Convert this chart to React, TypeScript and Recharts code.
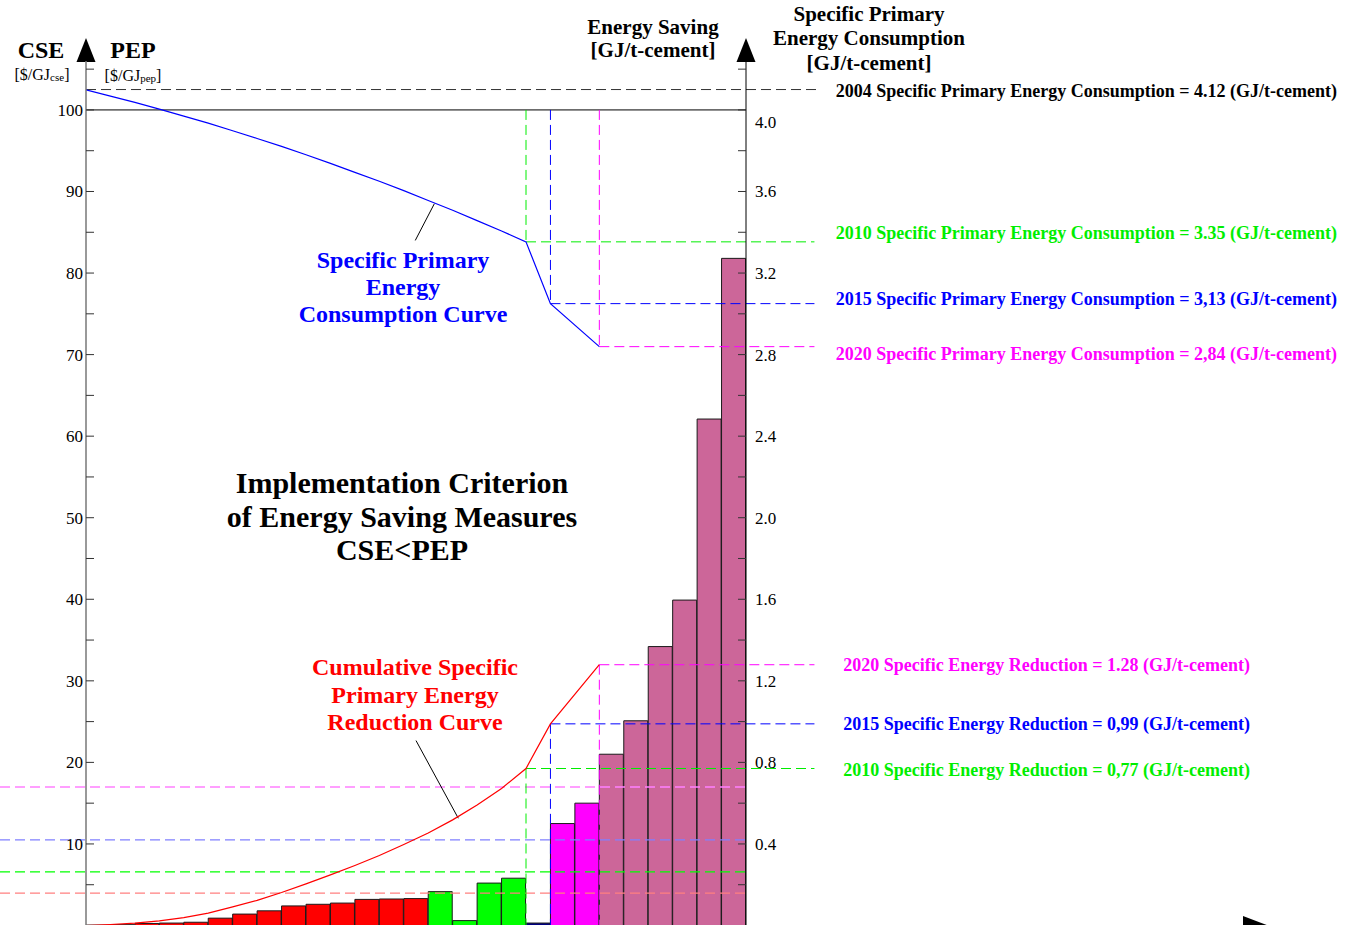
import React from "react";
import { Bar, Cell, ComposedChart, Line, ReferenceLine, XAxis, YAxis } from "recharts";

// cost of saved energy of each measure, $/GJ (left axis)
const measureCse = [
  0.05, 0.1, 0.25, 0.3, 0.4, 0.9, 1.4, 1.8, 2.4, 2.6, 2.75, 3.2, 3.25, 3.3,
  4.15, 0.6, 5.2, 5.8, 0.3, 12.5, 15.0, 21.0, 25.1, 34.2, 39.9, 62.1, 81.8,
];
const measureGroup = [
  "2004", "2004", "2004", "2004", "2004", "2004", "2004", "2004", "2004", "2004", "2004", "2004", "2004", "2004",
  "2010", "2010", "2010", "2010", "2015", "2020", "2020",
  "none", "none", "none", "none", "none", "none",
];

// curves, read at the measure edges (GJ/t-cement, right axis)
const curveEdge = [0, 1, 2, 3, 4, 5, 6, 7, 8, 9, 10, 11, 12, 13, 14, 15, 16, 17, 18, 19, 21];
const consumptionCurve = [
  4.098, 4.068, 4.037, 4.004, 3.97, 3.935, 3.898, 3.86, 3.821, 3.78, 3.738,
  3.694, 3.65, 3.604, 3.556, 3.508, 3.457, 3.406, 3.353, 3.05, 2.839,
];
const reductionCurve = [
  0, 0.005, 0.012, 0.023, 0.039, 0.061, 0.091, 0.123, 0.162, 0.204, 0.248,
  0.294, 0.343, 0.397, 0.454, 0.518, 0.591, 0.672, 0.77, 0.989, 1.279,
];

// milestones
const baseConsumption = 4.1;
const milestoneYear = ["2010", "2015", "2020"];
const milestoneEdge = [18, 19, 21];
const milestoneConsumption = [3.353, 3.05, 2.839];
const milestoneReduction = [0.77, 0.989, 1.279];

// price of energy levels, $/GJ (left axis)
const pepYear = ["2020", "2015", "2010", "2004"];
const pepLevel = [16.98, 10.49, 6.57, 3.98];

const consumptionLabels = [
  "2004 Specific Primary Energy Consumption = 4.12 (GJ/t-cement)",
  "2010 Specific Primary Energy Consumption = 3.35 (GJ/t-cement)",
  "2015 Specific Primary Energy Consumption = 3,13 (GJ/t-cement)",
  "2020 Specific Primary Energy Consumption = 2,84 (GJ/t-cement)",
];
const reductionLabels = [
  "2010 Specific Energy Reduction = 0,77 (GJ/t-cement)",
  "2015 Specific Energy Reduction = 0,99 (GJ/t-cement)",
  "2020 Specific Energy Reduction = 1.28 (GJ/t-cement)",
];

const leftTicks = [5, 10, 15, 20, 25, 30, 35, 40, 45, 50, 55, 60, 65, 70, 75, 80, 85, 90, 95, 100, 105];
const rightTicks = [0.2, 0.4, 0.6, 0.8, 1.0, 1.2, 1.4, 1.6, 1.8, 2.0, 2.2, 2.4, 2.6, 2.8, 3.0, 3.2, 3.4, 3.6, 3.8, 4.0, 4.2];

const groupFill: Record<string, string> = {
  "2004": "#FF0000",
  "2010": "#00FF00",
  "2015": "#000080",
  "2020": "#FF00FF",
  none: "#CC6699",
};
const yearColor: Record<string, string> = {
  "2004": "#000000",
  "2010": "#00EE00",
  "2015": "#0000FF",
  "2020": "#FF00FF",
};
const pepColor: Record<string, string> = {
  "2020": "#FF80FF",
  "2015": "#8080FF",
  "2010": "#00FF00",
  "2004": "#FF8080",
};

const barData = measureCse.map((v, i) => ({ name: "m" + (i + 1), cse: v, group: measureGroup[i] }));
const consumptionData = curveEdge.map((x, i) => ({ x, v: consumptionCurve[i] }));
const reductionData = curveEdge.map((x, i) => ({ x, v: reductionCurve[i] }));

const serif = '"Liberation Serif", "Times New Roman", serif';
const W = 1346;
const H = 960;
const plotLeft = 86;
const plotRight = 746;
const nBars = measureCse.length;
const barW = (plotRight - plotLeft) / nBars;
const lineEnd = 29.8;
const leftStart = -plotLeft / barW;
const xArrowBase = (1243 - plotLeft) / barW;
const dash = "10 5";

const LeftTick = (props: any) => {
  const { x, y, payload } = props;
  const v = payload.value;
  return (
    <g>
      <line x1={x} x2={x + 8} y1={y} y2={y} stroke="#333" strokeWidth={1} />
      {v % 10 === 0 && (
        <text x={x - 3} y={y + 6} textAnchor="end" fontSize={17} fontFamily={serif} fill="#000">
          {v}
        </text>
      )}
    </g>
  );
};

const RightTick = (props: any) => {
  const { x, y, payload } = props;
  const v = payload.value;
  const major = Math.round(v * 10) % 4 === 0;
  return (
    <g>
      <line x1={x - 8} x2={x} y1={y} y2={y} stroke="#333" strokeWidth={1} />
      {major && (
        <text x={x + 9} y={y + 6 + (v >= 4 ? 12 : 0)} textAnchor="start" fontSize={17} fontFamily={serif} fill="#000">
          {v.toFixed(1)}
        </text>
      )}
    </g>
  );
};

const bold = { fontFamily: serif, fontWeight: 700 } as const;

export default function App() {
  return (
    <div style={{ position: "absolute", left: 0, top: 0, width: W, height: 925, overflow: "hidden", background: "#fff" }}>
      <ComposedChart
        width={W}
        height={H}
        data={barData}
        barCategoryGap={0}
        barGap={0}
        margin={{ top: 61, right: W - plotRight - 60, bottom: 4.5, left: plotLeft - 60 }}
      >
        <XAxis xAxisId="cat" dataKey="name" type="category" hide />
        <XAxis
          xAxisId="num"
          dataKey="x"
          type="number"
          domain={[0, nBars]}
          allowDataOverflow
          tick={false}
          tickLine={false}
          axisLine={{ stroke: "#000" }}
        />
        <YAxis
          yAxisId="cse"
          orientation="left"
          width={60}
          domain={[0, 106]}
          ticks={leftTicks}
          interval={0}
          tickLine={false}
          tickSize={0}
          tickMargin={0}
          tick={<LeftTick />}
          axisLine={{ stroke: "#777", strokeWidth: 1.5 }}
          allowDataOverflow
        />
        <YAxis
          yAxisId="gj"
          orientation="right"
          width={60}
          domain={[0, 106 / 25]}
          ticks={rightTicks}
          interval={0}
          tickLine={false}
          tickSize={0}
          tickMargin={0}
          tick={<RightTick />}
          axisLine={{ stroke: "#000" }}
          allowDataOverflow
        />

        <Bar xAxisId="cat" yAxisId="cse" dataKey="cse" stroke="#1a1a1a" strokeWidth={1} isAnimationActive={false}>
          {barData.map((d, i) => (
            <Cell key={i} fill={groupFill[d.group]} />
          ))}
        </Bar>

        {/* 100 $/GJ frame line */}
        <ReferenceLine xAxisId="num" yAxisId="cse" segment={[{ x: 0, y: 100 }, { x: nBars, y: 100 }]} stroke="#000" strokeWidth={1} ifOverflow="visible" />

        {/* price of energy levels */}
        {pepLevel.map((lv, i) => (
          <ReferenceLine
            key={"pep" + i}
            xAxisId="num"
            yAxisId="cse"
            segment={[{ x: leftStart, y: lv }, { x: nBars, y: lv }]}
            stroke={pepColor[pepYear[i]]}
            strokeDasharray={dash}
            strokeWidth={1.3}
            ifOverflow="visible"
          />
        ))}

        {/* 2004 consumption */}
        <ReferenceLine
          xAxisId="num"
          yAxisId="gj"
          segment={[{ x: 0, y: baseConsumption }, { x: 30, y: baseConsumption }]}
          stroke="#333"
          strokeDasharray={dash}
          ifOverflow="visible"
        />

        {milestoneEdge.map((e, i) => {
          const c = yearColor[milestoneYear[i]];
          const cons = milestoneConsumption[i];
          const red = milestoneReduction[i];
          return (
            <React.Fragment key={"m" + i}>
              <ReferenceLine xAxisId="num" yAxisId="gj" segment={[{ x: e, y: 4.0 }, { x: e, y: cons }]} stroke={c} strokeDasharray={dash} ifOverflow="visible" />
              <ReferenceLine xAxisId="num" yAxisId="gj" segment={[{ x: e, y: cons }, { x: lineEnd, y: cons }]} stroke={c} strokeDasharray={dash} ifOverflow="visible" />
              <ReferenceLine xAxisId="num" yAxisId="gj" segment={[{ x: e, y: red }, { x: e, y: 0 }]} stroke={c} strokeDasharray={dash} ifOverflow="visible" />
              <ReferenceLine xAxisId="num" yAxisId="gj" segment={[{ x: e, y: red }, { x: lineEnd, y: red }]} stroke={c} strokeDasharray={dash} ifOverflow="visible" />
            </React.Fragment>
          );
        })}

        {/* x axis extension */}
        <ReferenceLine xAxisId="num" yAxisId="gj" segment={[{ x: nBars, y: 0 }, { x: xArrowBase, y: 0 }]} stroke="#000" ifOverflow="visible" />

        {/* leader lines */}
        <ReferenceLine xAxisId="num" yAxisId="gj" segment={[{ x: 14.25, y: 3.54 }, { x: 13.47, y: 3.36 }]} stroke="#000" ifOverflow="visible" />
        <ReferenceLine xAxisId="num" yAxisId="gj" segment={[{ x: 13.5, y: 0.907 }, { x: 15.23, y: 0.526 }]} stroke="#000" ifOverflow="visible" />

        <Line
          xAxisId="num"
          yAxisId="gj"
          data={consumptionData}
          dataKey="v"
          type="linear"
          stroke="#0000FF"
          strokeWidth={1.2}
          dot={false}
          isAnimationActive={false}
        />
        <Line
          xAxisId="num"
          yAxisId="gj"
          data={reductionData}
          dataKey="v"
          type="linear"
          stroke="#FF0000"
          strokeWidth={1.2}
          dot={false}
          isAnimationActive={false}
        />

        {/* axis arrows */}
        <polygon points="86,38 76.5,62 95.5,62" fill="#000" />
        <polygon points="746,38 736.5,62 755.5,62" fill="#000" />
        <polygon points="1268,925.5 1243,916 1243,935" fill="#000" />

        {/* axis titles */}
        <text x={41} y={58} textAnchor="middle" fontSize={24} {...bold}>CSE</text>
        <text x={42} y={80} textAnchor="middle" fontSize={16} fontFamily={serif}>
          [$/GJ<tspan fontSize={11} dy={1}>cse</tspan><tspan dy={-1}>]</tspan>
        </text>
        <text x={133} y={58} textAnchor="middle" fontSize={24} {...bold}>PEP</text>
        <text x={133} y={81} textAnchor="middle" fontSize={16} fontFamily={serif}>
          [$/GJ<tspan fontSize={11} dy={1}>pep</tspan><tspan dy={-1}>]</tspan>
        </text>
        <text x={653} y={34} textAnchor="middle" fontSize={21} {...bold}>Energy Saving</text>
        <text x={653} y={57} textAnchor="middle" fontSize={21} {...bold}>[GJ/t-cement]</text>
        <text x={869} y={21} textAnchor="middle" fontSize={21} {...bold}>Specific Primary</text>
        <text x={869} y={45} textAnchor="middle" fontSize={21} {...bold}>Energy Consumption</text>
        <text x={869} y={70} textAnchor="middle" fontSize={21} {...bold}>[GJ/t-cement]</text>

        {/* milestone labels */}
        {consumptionLabels.map((t, i) => (
          <text key={"cl" + i} x={1337} y={[97, 239, 305, 360][i]} textAnchor="end" fontSize={18} fill={yearColor[t.slice(0, 4)]} {...bold}>
            {t}
          </text>
        ))}
        {reductionLabels.map((t, i) => (
          <text key={"rl" + i} x={1250} y={[776, 730, 671][i]} textAnchor="end" fontSize={18} fill={yearColor[t.slice(0, 4)]} {...bold}>
            {t}
          </text>
        ))}

        {/* curve notes */}
        <text textAnchor="middle" fontSize={24} fill="#0000FF" {...bold}>
          <tspan x={403} y={268}>Specific Primary</tspan>
          <tspan x={403} y={295}>Energy</tspan>
          <tspan x={403} y={322}>Consumption Curve</tspan>
        </text>
        <text textAnchor="middle" fontSize={30} fill="#000" {...bold}>
          <tspan x={402} y={493}>Implementation Criterion</tspan>
          <tspan x={402} y={527}>of Energy Saving Measures</tspan>
          <tspan x={402} y={560}>CSE&lt;PEP</tspan>
        </text>
        <text textAnchor="middle" fontSize={24} fill="#FF0000" {...bold}>
          <tspan x={415} y={675}>Cumulative Specific</tspan>
          <tspan x={415} y={703}>Primary Energy</tspan>
          <tspan x={415} y={730}>Reduction Curve</tspan>
        </text>
      </ComposedChart>
    </div>
  );
}
